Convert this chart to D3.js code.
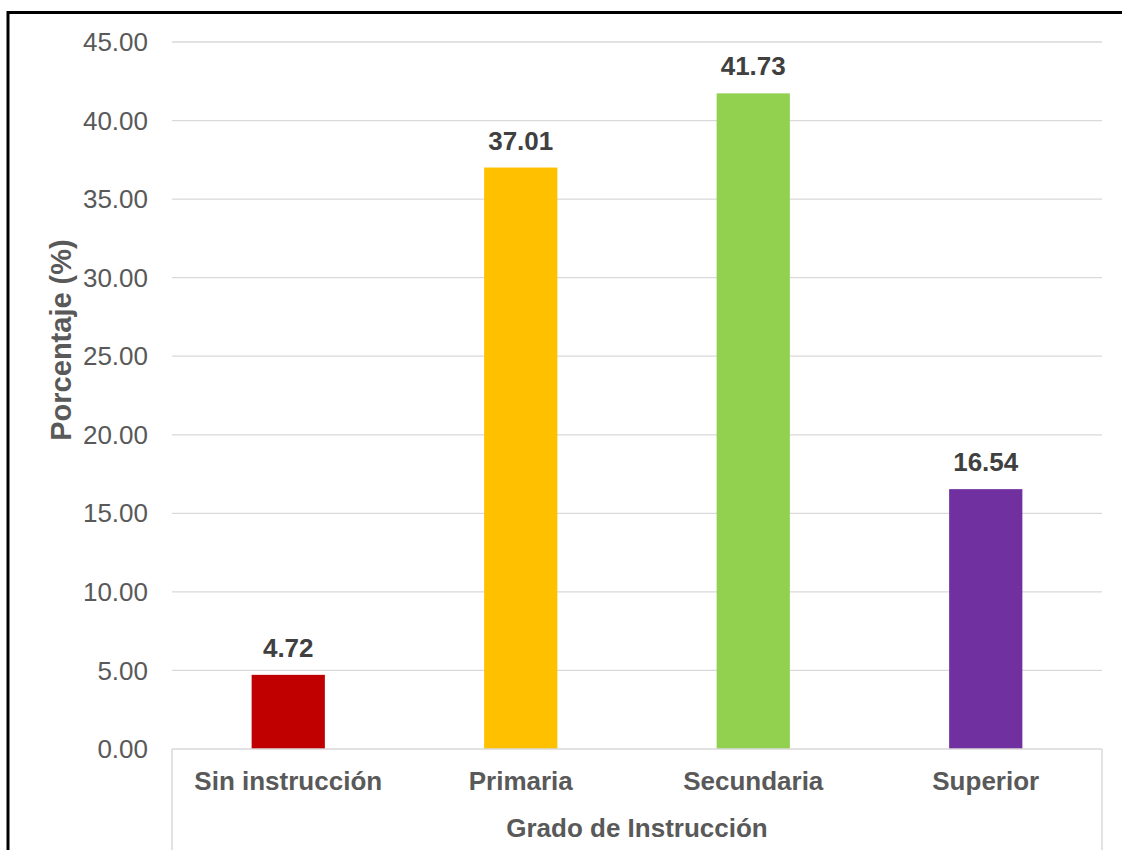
<!DOCTYPE html>
<html>
<head>
<meta charset="utf-8">
<script src="https://cdn.jsdelivr.net/npm/d3@7"></script>
<style>
  body { margin: 0; background: #fff; }
  svg { display: block; font-family: "Liberation Sans", Arial, sans-serif; }
</style>
</head>
<body>
<svg id="chart" width="1122" height="850"></svg>
<script>
// chart data
var categories = ["Sin instrucción", "Primaria", "Secundaria", "Superior"];
var values = [4.72, 37.01, 41.73, 16.54];
var barColors = ["#C00000", "#FFC000", "#92D050", "#7030A0"];
var yTicks = [0, 5, 10, 15, 20, 25, 30, 35, 40, 45];

var svg = d3.select("#chart");

// frame around the chart (cut off on right and bottom)
svg.append("rect")
    .attr("x", 8).attr("y", 12.5)
    .attr("width", 1200).attr("height", 900)
    .attr("fill", "none")
    .attr("stroke", "#000")
    .attr("stroke-width", 3);

// plot area bounds ("top" is reserved by the browser, so use other names)
var plotLeft = 172, plotRight = 1102, plotTop = 42, plotBottom = 749;

var x = d3.scaleBand()
    .domain(categories)
    .range([plotLeft, plotRight])
    .padding(0);

var y = d3.scaleLinear()
    .domain([0, 45])
    .range([plotBottom, plotTop]);

var barW = x.bandwidth() * 0.315;

// gridlines
svg.append("g").selectAll("line")
    .data(yTicks.filter(function (d) { return d > 0; }))
    .enter().append("line")
    .attr("x1", plotLeft).attr("x2", plotRight)
    .attr("y1", function (d) { return y(d); })
    .attr("y2", function (d) { return y(d); })
    .attr("stroke", "#d9d9d9")
    .attr("stroke-width", 1.3);

// y tick labels
svg.append("g").selectAll("text")
    .data(yTicks)
    .enter().append("text")
    .attr("x", 148)
    .attr("y", function (d) { return y(d); })
    .attr("dy", "0.35em")
    .attr("text-anchor", "end")
    .attr("fill", "#595959")
    .style("font-size", "26px")
    .text(function (d) { return d.toFixed(2); });

// bars
svg.append("g").selectAll("rect")
    .data(values)
    .enter().append("rect")
    .attr("x", function (d, i) { return x(categories[i]) + x.bandwidth() / 2 - barW / 2; })
    .attr("y", function (d) { return y(d); })
    .attr("width", barW)
    .attr("height", function (d) { return y(0) - y(d); })
    .attr("fill", function (d, i) { return barColors[i]; });

// value labels
svg.append("g").selectAll("text")
    .data(values)
    .enter().append("text")
    .attr("x", function (d, i) { return x(categories[i]) + x.bandwidth() / 2; })
    .attr("y", function (d) { return y(d) - 18; })
    .attr("text-anchor", "middle")
    .attr("fill", "#404040")
    .style("font-size", "26px")
    .style("font-weight", "bold")
    .text(function (d) { return d.toFixed(2); });

// x axis line and outer box of category axis
var axisG = svg.append("g")
    .attr("stroke", "#d9d9d9")
    .attr("stroke-width", 1.5)
    .attr("fill", "none");
axisG.append("line")
    .attr("x1", plotLeft).attr("x2", plotRight)
    .attr("y1", y(0)).attr("y2", y(0));
axisG.append("line")
    .attr("x1", plotLeft).attr("x2", plotLeft)
    .attr("y1", y(0)).attr("y2", 850);
axisG.append("line")
    .attr("x1", plotRight).attr("x2", plotRight)
    .attr("y1", y(0)).attr("y2", 850);

// category labels
svg.append("g").selectAll("text")
    .data(categories)
    .enter().append("text")
    .attr("x", function (d) { return x(d) + x.bandwidth() / 2; })
    .attr("y", 790)
    .attr("text-anchor", "middle")
    .attr("fill", "#595959")
    .style("font-size", "26px")
    .style("font-weight", "bold")
    .text(function (d) { return d; });

// axis titles
svg.append("text")
    .attr("x", (plotLeft + plotRight) / 2)
    .attr("y", 837)
    .attr("text-anchor", "middle")
    .attr("fill", "#595959")
    .style("font-size", "26px")
    .style("font-weight", "bold")
    .text("Grado de Instrucción");

svg.append("text")
    .attr("transform", "translate(71,340) rotate(-90)")
    .attr("text-anchor", "middle")
    .attr("fill", "#595959")
    .style("font-size", "29px")
    .style("font-weight", "bold")
    .text("Porcentaje (%)");
</script>
</body>
</html>
